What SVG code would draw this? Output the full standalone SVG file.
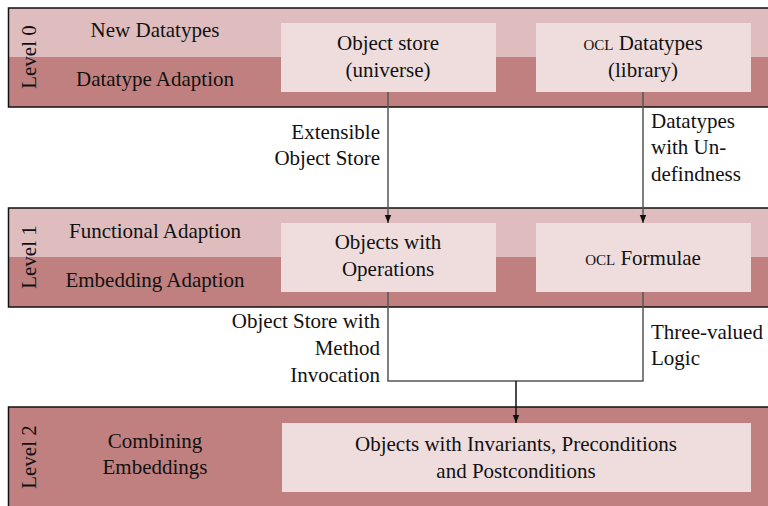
<svg xmlns="http://www.w3.org/2000/svg" width="768" height="506" viewBox="0 0 768 506">
<style>
text{font-family:"Liberation Serif","Times New Roman",serif;font-size:21px;fill:#111}
.c{text-anchor:middle}
.r{text-anchor:end}
.sc{font-variant:small-caps}
.light{fill:#dfbdbf}
.dark{fill:#c0807f}
.border{fill:none;stroke:#111;stroke-width:1.5}
.box{fill:#efdddd}
.conn{fill:none;stroke:#555;stroke-width:1.5}
</style>
<defs>
<marker id="arr" viewBox="0 0 10 10" refX="10" refY="5" markerWidth="8" markerHeight="8" markerUnits="userSpaceOnUse" orient="auto">
<path d="M0,1 L10,5 L0,9 Z" fill="#111"/>
</marker>
</defs>
<g id="level0">
<rect class="light" x="8" y="8" width="762" height="49"/>
<rect class="dark" x="8" y="57" width="762" height="50"/>
<path class="border" d="M770,8 H8.5 V107 H770"/>
<text class="c" transform="translate(36,57) rotate(-90)">Level 0</text>
<text class="c" x="155" y="37">New Datatypes</text>
<text class="c" x="155" y="86">Datatype Adaption</text>
</g>
<g id="objstore">
<rect class="box" x="281" y="23" width="215" height="69"/>
<text class="c" x="388" y="50">Object store</text>
<text class="c" x="388" y="77">(universe)</text>
</g>
<g id="ocldatatypes">
<rect class="box" x="536" y="23" width="215" height="69"/>
<text class="c" x="643" y="50"><tspan class="sc">ocl</tspan> Datatypes</text>
<text class="c" x="643" y="77">(library)</text>
</g>
<g id="level1">
<rect class="light" x="8" y="208" width="762" height="49"/>
<rect class="dark" x="8" y="257" width="762" height="50"/>
<path class="border" d="M770,208 H8.5 V307 H770"/>
<text class="c" transform="translate(36,257) rotate(-90)">Level 1</text>
<text class="c" x="155" y="238">Functional Adaption</text>
<text class="c" x="155" y="287">Embedding Adaption</text>
</g>
<g id="objops">
<rect class="box" x="281" y="223" width="215" height="69"/>
<text class="c" x="388" y="249">Objects with</text>
<text class="c" x="388" y="276">Operations</text>
</g>
<g id="oclformulae">
<rect class="box" x="536" y="223" width="215" height="69"/>
<text class="c" x="643" y="265"><tspan class="sc">ocl</tspan> Formulae</text>
</g>
<g id="level2">
<rect class="dark" x="8" y="407" width="762" height="100"/>
<path class="border" d="M770,407 H8.5 V507"/>
<text class="c" transform="translate(36,457) rotate(-90)">Level 2</text>
<text class="c" x="155" y="448">Combining</text>
<text class="c" x="155" y="474">Embeddings</text>
</g>
<g id="objinv">
<rect class="box" x="282" y="423" width="469" height="69"/>
<text class="c" x="516" y="451">Objects with Invariants, Preconditions</text>
<text class="c" x="516" y="478">and Postconditions</text>
</g>
<g id="connectors">
<path class="conn" d="M388,92 V223" marker-end="url(#arr)"/>
<path class="conn" d="M643,92 V223" marker-end="url(#arr)"/>
<path class="conn" d="M388,292 V381 H643 V292"/>
<path d="M516,381 V423" fill="none" stroke="#111" stroke-width="1.5" marker-end="url(#arr)"/>
<text class="r" x="380" y="139">Extensible</text>
<text class="r" x="380" y="165">Object Store</text>
<text x="651" y="128">Datatypes</text>
<text x="651" y="154">with Un-</text>
<text x="651" y="181">defindness</text>
<text class="r" x="380" y="328">Object Store with</text>
<text class="r" x="380" y="355">Method</text>
<text class="r" x="380" y="382">Invocation</text>
<text x="651" y="339">Three-valued</text>
<text x="651" y="365">Logic</text>
</g>
</svg>
